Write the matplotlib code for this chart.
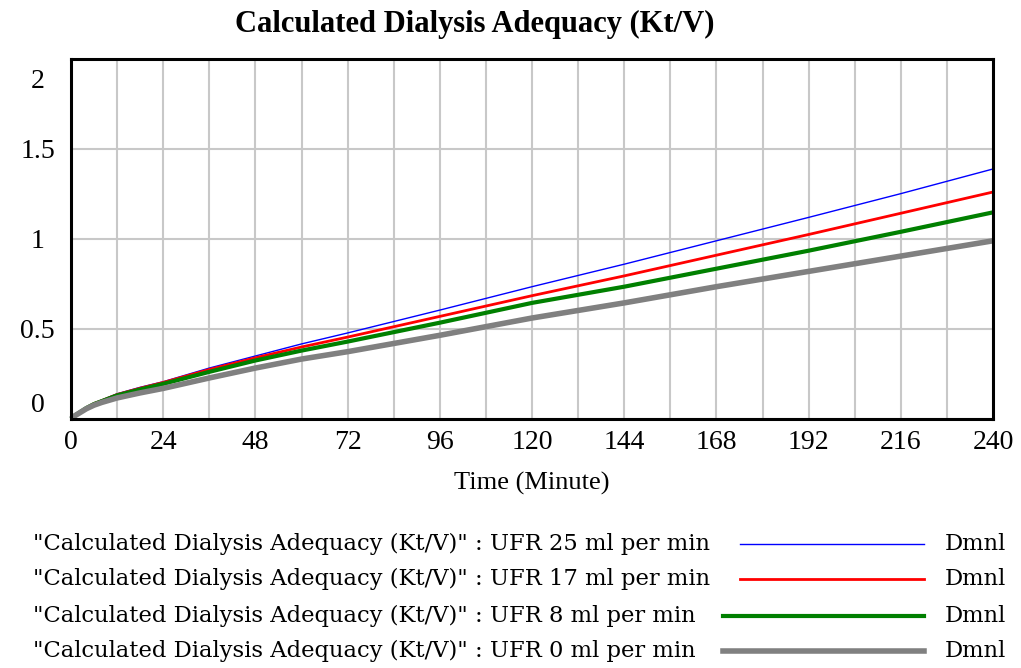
import numpy as np
import matplotlib
matplotlib.use('Agg')
import matplotlib.pyplot as plt
from matplotlib.lines import Line2D
from matplotlib.transforms import ScaledTranslation

# Kt/V over a 4 hour session for four ultrafiltration rates
time_min = [0, 1, 2, 4, 6, 8, 12, 18, 24, 36, 48, 60, 72, 96, 120, 144, 168, 192, 216, 240]
ufr_25 = [0, 0.020, 0.035, 0.065, 0.088, 0.105, 0.140, 0.176, 0.207, 0.283, 0.350, 0.417,
          0.478, 0.605, 0.735, 0.860, 0.990, 1.120, 1.252, 1.389]
ufr_17 = [0, 0.020, 0.034, 0.063, 0.086, 0.102, 0.136, 0.171, 0.203, 0.275, 0.340, 0.400,
          0.455, 0.570, 0.685, 0.795, 0.910, 1.025, 1.143, 1.261]
ufr_8 = [0, 0.019, 0.033, 0.061, 0.083, 0.099, 0.131, 0.164, 0.195, 0.262, 0.325, 0.380,
         0.430, 0.535, 0.645, 0.735, 0.835, 0.935, 1.040, 1.148]
ufr_0 = [0, 0.018, 0.031, 0.057, 0.077, 0.092, 0.117, 0.145, 0.170, 0.228, 0.283, 0.333,
         0.374, 0.465, 0.561, 0.645, 0.735, 0.820, 0.905, 0.990]

series = [ufr_25, ufr_17, ufr_8, ufr_0]
labels = ['"Calculated Dialysis Adequacy (Kt/V)" : UFR 25 ml per min',
          '"Calculated Dialysis Adequacy (Kt/V)" : UFR 17 ml per min',
          '"Calculated Dialysis Adequacy (Kt/V)" : UFR 8 ml per min',
          '"Calculated Dialysis Adequacy (Kt/V)" : UFR 0 ml per min']
colors = ['#0000ff', '#ff0000', '#008000', '#808080']
widths = [1.0, 2.0, 3.0, 4.0]

W, H = 1021, 668
fig = plt.figure(figsize=(W / 100, H / 100), dpi=100)
ax = fig.add_axes([71 / W, 1 - 419 / H, (993 - 71) / W, (419 - 59) / H])

ax.set_xlim(0, 240)
ax.set_ylim(0, 2)
ax.set_xticks(np.arange(0, 241, 24))
ax.set_xticks(np.arange(0, 241, 12), minor=True)
ax.set_yticks([0, 0.5, 1, 1.5, 2])
ax.set_yticklabels(['0', '0.5', '1', '1.5', '2'])
ax.grid(True, which='both', color='#c8c8c8', linewidth=1.5)
ax.set_axisbelow(True)

for s in ax.spines.values():
    s.set_linewidth(2.2)
    s.set_color('black')

ax.tick_params(which='both', length=0)
ax.tick_params(axis='x', pad=8, labelsize=20)
ax.tick_params(axis='y', pad=24, labelsize=20)
for t in ax.get_xticklabels() + ax.get_yticklabels():
    t.set_fontfamily('Liberation Serif')
for t in ax.get_yticklabels():
    t.set_horizontalalignment('center')

# nudge the end labels inside the frame
ylabs = ax.get_yticklabels()
ylabs[0].set_transform(ylabs[0].get_transform() + ScaledTranslation(0, 17 / 100, fig.dpi_scale_trans))
ylabs[-1].set_transform(ylabs[-1].get_transform() + ScaledTranslation(0, -19 / 100, fig.dpi_scale_trans))

for vals, c, lw in zip(series, colors, widths):
    ax.plot(time_min, vals, color=c, linewidth=lw, solid_capstyle='butt', clip_on=False)

fig.text(475 / W, 1 - 24 / H, 'Calculated Dialysis Adequacy (Kt/V)', ha='center', va='center',
         fontsize=22, fontweight='bold', family='Liberation Serif')
fig.text(532 / W, 1 - 483 / H, 'Time (Minute)', ha='center', va='center',
         fontsize=19, family='Liberation Serif')

# legend rows drawn by hand
row_y = [544, 579, 616, 651]
line_x0 = [740, 740, 723, 723]
for lab, c, lw, y, x0 in zip(labels, colors, widths, row_y, line_x0):
    fy = 1 - y / H
    fig.text(33 / W, fy, lab, ha='left', va='center', fontsize=16.3, family='DejaVu Serif')
    fig.add_artist(Line2D([x0 / W, 924 / W], [fy, fy], color=c, linewidth=lw))
    fig.text(945 / W, fy, 'Dmnl', ha='left', va='center', fontsize=16.3, family='DejaVu Serif')

fig.savefig('out.png', dpi=100)
